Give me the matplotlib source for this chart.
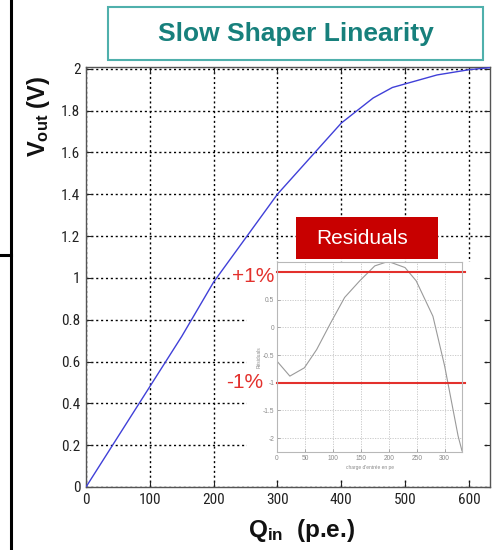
import matplotlib
matplotlib.use("Agg")
import matplotlib.pyplot as plt
from matplotlib.patches import Rectangle
from matplotlib.lines import Line2D
import numpy as np

plt.rcParams['font.family'] = ['Liberation Sans', 'DejaVu Sans']
plt.rcParams['mathtext.fontset'] = 'custom'
plt.rcParams['mathtext.rm'] = 'Liberation Sans'
plt.rcParams['mathtext.bf'] = 'Liberation Sans:bold'

# shaper output vs injected charge
q_in = [0, 50, 100, 150, 200, 250, 300, 350, 400, 450, 480, 550, 600, 633]
v_out = [0, 0.24, 0.48, 0.72, 0.98, 1.19, 1.40, 1.57, 1.74, 1.86, 1.91, 1.97, 1.995, 2.005]

# residuals of the linear fit (%)
res_q = [0, 23, 49, 71, 96, 121, 148, 175, 199, 229, 249, 279, 300, 324, 331]
res_v = [-0.61, -0.88, -0.73, -0.40, 0.08, 0.54, 0.84, 1.11, 1.19, 1.08, 0.84, 0.20, -0.70, -1.96, -2.23]

x_ticks = [0, 100, 200, 300, 400, 500, 600]
y_ticks = [0, 0.2, 0.4, 0.6, 0.8, 1, 1.2, 1.4, 1.6, 1.8, 2]
y_tick_labels = ['0', '0.2', '0.4', '0.6', '0.8', '1', '1.2', '1.4', '1.6', '1.8', '2']
res_x_ticks = [0, 50, 100, 150, 200, 250, 300]
res_y_ticks = [-2, -1.5, -1, -0.5, 0, 0.5, 1]
res_y_labels = ['-2', '-1.5', '-1', '-0.5', '0', '0.5', '']

W, H = 495, 550
narrow = ['Roboto Condensed', 'Liberation Sans Narrow', 'Liberation Sans']


def px(x0, y0, x1, y1):
    # pixel box (top-left origin) -> figure fraction rect
    return [x0 / W, 1 - y1 / H, (x1 - x0) / W, (y1 - y0) / H]


fig = plt.figure(figsize=(W / 100, H / 100), dpi=100)

ax = fig.add_axes(px(86, 67, 490, 487))
ax.plot(q_in, v_out, color='#4040d8', lw=1.0, zorder=3)
ax.set_xlim(0, 633)
ax.set_ylim(0, 2.008)
ax.set_xticks(x_ticks)
ax.set_yticks(y_ticks)
ax.set_yticklabels(y_tick_labels)
ax.grid(True, color='black', linestyle=(0, (1.5, 2.0)), lw=1.0)
ax.tick_params(direction='in', length=4, width=0.8, top=True, right=True,
               labelsize=11, colors='#222222', pad=4)
for lab in ax.get_xticklabels() + ax.get_yticklabels():
    lab.set_family(narrow)
for sp in ax.spines.values():
    sp.set_color('#555555')
    sp.set_linewidth(1.0)

# white backing behind the residuals inset
fig.add_artist(Rectangle((247 / W, 1 - 480 / H), (484 - 247) / W, (480 - 262) / H,
                         transform=fig.transFigure, facecolor='white',
                         edgecolor='none', zorder=0.5))

axin = fig.add_axes(px(277, 262, 462, 452))
axin.set_zorder(1)
axin.plot(res_q, res_v, color='#9a9a9a', lw=0.8)
axin.set_xlim(0, 331)
axin.set_ylim(-2.25, 1.18)
axin.set_xticks(res_x_ticks)
axin.set_yticks(res_y_ticks)
axin.set_yticklabels(res_y_labels)
axin.grid(True, color='#c4c4c4', linestyle=(0, (1.5, 1.5)), lw=0.6)
axin.tick_params(direction='in', length=2, width=0.5, labelsize=4.8,
                 colors='#8a8a8a', pad=2)
for sp in axin.spines.values():
    sp.set_color('#b8b8b8')
    sp.set_linewidth(0.8)
axin.set_xlabel("charge d'entrée en pe", fontsize=3.5, color='#8a8a8a', labelpad=2)
axin.set_ylabel('Résiduals', fontsize=3.5, color='#8a8a8a', labelpad=1)
for lvl in (1, -1):
    axin.axhline(lvl, xmin=0, xmax=1.017, clip_on=False, color='#e3312d', lw=1.5)

red = '#e3312d'
fig.text(274 / W, 1 - 277 / H, '+1%', ha='right', va='center', color=red,
         fontsize=15, bbox=dict(facecolor='white', edgecolor='none', pad=1))
fig.text(263 / W, 1 - 383 / H, '-1%', ha='right', va='center', color=red,
         fontsize=15)

# "Residuals" tag
fig.add_artist(Rectangle((296 / W, 1 - 259 / H), 142 / W, 42 / H,
                         transform=fig.transFigure, facecolor='#c80000',
                         edgecolor='none', zorder=2))
fig.text(362 / W, 1 - 239 / H, 'Residuals', ha='center', va='center',
         color='white', fontsize=15, zorder=3)

# title box
fig.add_artist(Rectangle((108 / W, 1 - 60 / H), 375 / W, 53 / H,
                         transform=fig.transFigure, facecolor='white',
                         edgecolor='#4fb0ac', lw=1.5, zorder=2))
fig.text(296 / W, 1 - 34 / H, 'Slow Shaper Linearity', ha='center', va='center',
         color='#17807c', fontsize=19, fontweight='bold', zorder=3)

fig.text(39 / W, 1 - 116 / H, r'$\mathbf{V_{out}}$ (V)', rotation=90,
         ha='center', va='center', fontsize=17, fontweight='bold', color='#111111')
fig.text(302 / W, 1 - 531 / H, r'$\mathbf{Q_{in}}$  (p.e.)', ha='center',
         va='center', fontsize=17.5, fontweight='bold', color='#111111')

# slide frame edges on the left
fig.add_artist(Line2D([11 / W, 11 / W], [0, 1], transform=fig.transFigure,
                      color='black', lw=2.2))
fig.add_artist(Line2D([0, 11 / W], [1 - 255 / H, 1 - 255 / H],
                      transform=fig.transFigure, color='black', lw=2.2))

fig.savefig('out.png', dpi=100)
